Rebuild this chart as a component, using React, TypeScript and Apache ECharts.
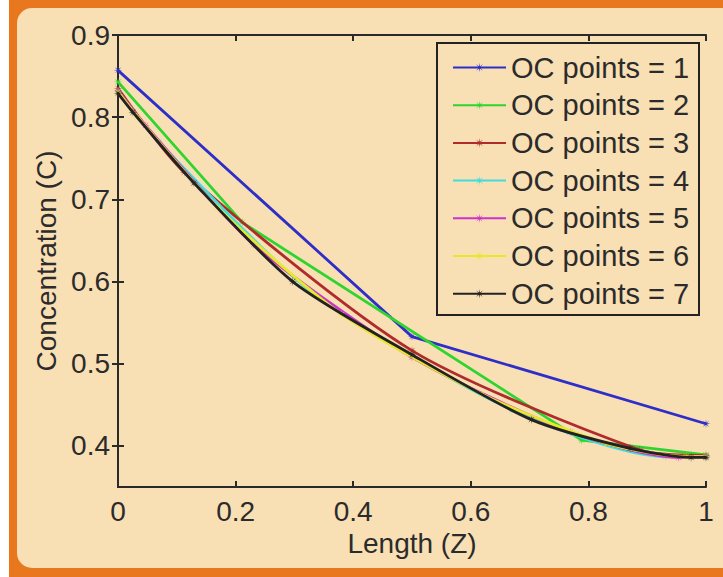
import React, { useEffect, useRef } from "react";
import * as echarts from "echarts";

const seriesNames = [
  "OC points = 1",
  "OC points = 2",
  "OC points = 3",
  "OC points = 4",
  "OC points = 5",
  "OC points = 6",
  "OC points = 7",
];

const x1 = [0, 0.5, 1];
const y1 = [0.857, 0.533, 0.427];
const x2 = [0, 0.2113, 0.7887, 1];
const y2 = [0.843, 0.672, 0.407, 0.389];
const x3 = [0, 0.1127, 0.5, 0.8873, 1];
const y3 = [0.835, 0.733, 0.516, 0.395, 0.388];
const x4 = [0, 0.0694, 0.33, 0.67, 0.9306, 1];
const y4 = [0.832, 0.77, 0.587, 0.444, 0.387, 0.387];
const x5 = [0, 0.0469, 0.2308, 0.5, 0.7692, 0.9531, 1];
const y5 = [0.832, 0.79, 0.645, 0.508, 0.417, 0.386, 0.387];
const x6 = [0, 0.0338, 0.1694, 0.3807, 0.6193, 0.8306, 0.9662, 1];
const y6 = [0.831, 0.8, 0.69, 0.56, 0.463, 0.403, 0.387, 0.387];
const x7 = [0, 0.0254, 0.1292, 0.2971, 0.5, 0.7029, 0.8708, 0.9746, 1];
const y7 = [0.829, 0.806, 0.72, 0.6, 0.511, 0.432, 0.397, 0.386, 0.386];

const xs = [x1, x2, x3, x4, x5, x6, x7];
const ys = [y1, y2, y3, y4, y5, y6, y7];
const colors = ["#2e2ec8", "#2fd52f", "#b02c2c", "#3ddede", "#cc33cc", "#e8e82a", "#222222"];

const yTicks = [0.4, 0.5, 0.6, 0.7, 0.8, 0.9];

const STAR =
  "path://M5,0 L1.11,0.46 L3.54,3.54 L0.46,1.11 L0,5 L-0.46,1.11 L-3.54,3.54 L-1.11,0.46 L-5,0 L-1.11,-0.46 L-3.54,-3.54 L-0.46,-1.11 L0,-5 L0.46,-1.11 L3.54,-3.54 L1.11,-0.46 Z";

const FONT = "'Liberation Sans', Arial, Helvetica, sans-serif";
const TXT = "#2b2b2b";
const BEIGE = "#f8dfb4";

export default function App() {
  const ref = useRef<HTMLDivElement>(null);
  useEffect(() => {
    if (!ref.current) return;
    const chart = echarts.init(ref.current, undefined, { renderer: "svg" });
    const fmt = (v: number) => String(+Number(v).toFixed(2));
    const axisLine = { show: true, lineStyle: { color: "#2a2a2a", width: 2 } };
    const tick = { show: true, inside: true, length: 6, lineStyle: { color: "#2a2a2a", width: 2 } };
    chart.setOption({
      animation: false,
      backgroundColor: "transparent",
      textStyle: { fontFamily: FONT },
      grid: { left: 118, top: 35, width: 588, height: 452, containLabel: false },
      xAxis: [
        {
          type: "value",
          min: 0,
          max: 1,
          interval: 0.2,
          position: "bottom",
          name: "Length (Z)",
          nameLocation: "middle",
          nameGap: 40,
          nameTextStyle: { fontSize: 28, color: TXT, fontFamily: FONT },
          axisLine,
          axisTick: tick,
          axisLabel: { fontSize: 28, color: TXT, margin: 10, formatter: fmt, fontFamily: FONT },
          splitLine: { show: false },
        },
        {
          type: "value",
          min: 0,
          max: 1,
          interval: 0.2,
          position: "top",
          axisLine,
          axisTick: tick,
          axisLabel: { show: false },
          splitLine: { show: false },
        },
      ],
      yAxis: [
        {
          type: "value",
          min: 0.35,
          max: 0.9,
          position: "left",
          name: "Concentration (C)",
          nameLocation: "middle",
          nameGap: 58,
          nameTextStyle: { fontSize: 28, color: TXT, fontFamily: FONT },
          axisLine,
          axisTick: { ...tick, customValues: yTicks },
          axisLabel: { fontSize: 28, color: TXT, margin: 8, customValues: yTicks, formatter: fmt, fontFamily: FONT },
          splitLine: { show: false },
        },
        {
          type: "value",
          min: 0.35,
          max: 0.9,
          position: "right",
          axisLine,
          axisTick: { ...tick, customValues: yTicks },
          axisLabel: { show: false, customValues: yTicks },
          splitLine: { show: false },
        },
      ],
      legend: {
        orient: "vertical",
        left: 452,
        top: 53,
        padding: 0,
        itemWidth: 53,
        itemHeight: 12,
        itemGap: 8.7,
        data: seriesNames,
        textStyle: { fontSize: 29, color: TXT, fontFamily: FONT, lineHeight: 29 },
        z: 10,
      },
      graphic: [
        {
          type: "rect",
          z: 5,
          shape: { x: 437, y: 43, width: 262, height: 272 },
          style: { fill: BEIGE, stroke: "#222222", lineWidth: 2 },
        },
      ],
      series: seriesNames.map((name, i) => ({
        name,
        type: "line",
        xAxisIndex: 0,
        yAxisIndex: 0,
        data: xs[i].map((x, j) => [x, ys[i][j]]),
        symbol: STAR,
        symbolSize: 9,
        showSymbol: true,
        smooth: i >= 2 ? 0.25 : false,
        lineStyle: { color: colors[i], width: 2.8 },
        itemStyle: { color: colors[i] },
        z: 2 + i * 0.01,
      })),
    });
    return () => chart.dispose();
  }, []);

  return (
    <div style={{ position: "absolute", left: 0, top: 0, width: 723, height: 577, background: "#ffffff", overflow: "hidden" }}>
      <div style={{ position: "absolute", left: 9, top: 0, right: 0, bottom: 0, background: "#e8771e" }} />
      <div
        style={{
          position: "absolute",
          left: 17,
          top: 8,
          right: -20,
          bottom: 9,
          background: BEIGE,
          borderRadius: 15,
        }}
      />
      <div ref={ref} style={{ position: "absolute", left: 0, top: 0, width: 723, height: 577 }} />
    </div>
  );
}
